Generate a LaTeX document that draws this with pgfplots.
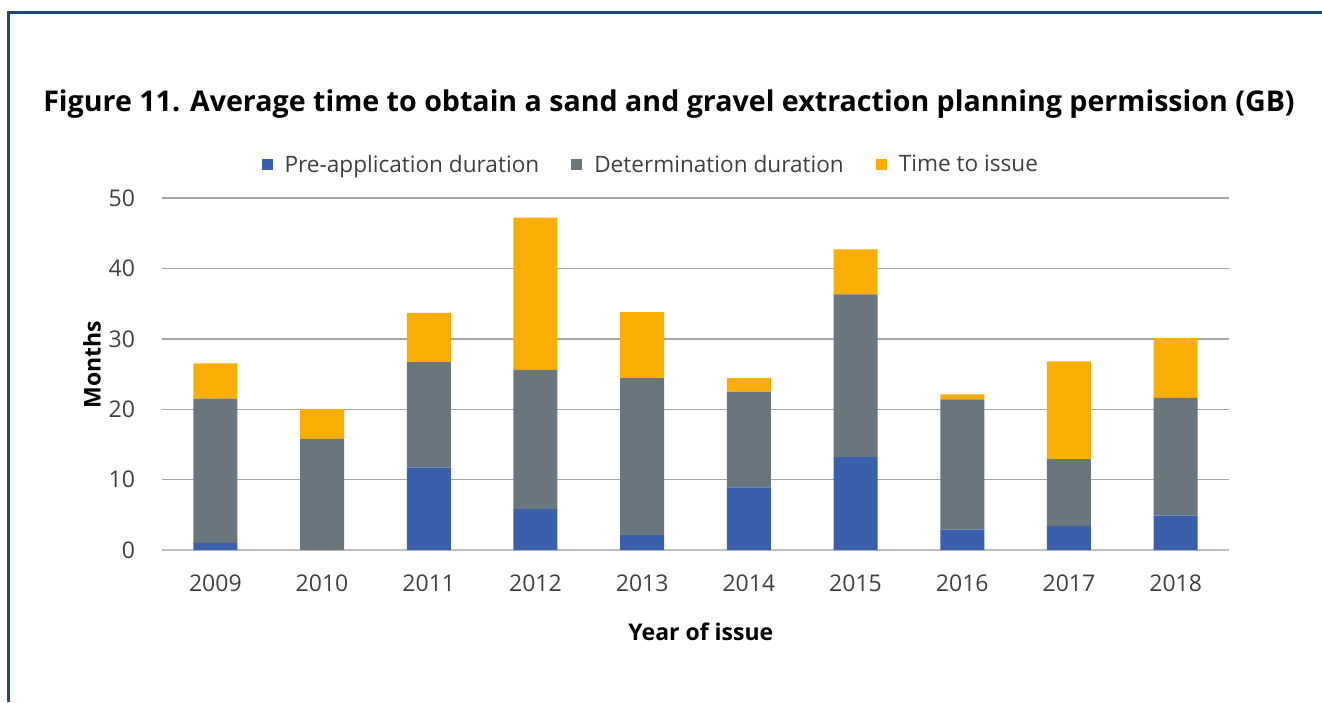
\documentclass[border=0pt]{standalone}
\usepackage{pgfplots}
\pgfplotsset{compat=1.18}
\usepackage{pgfplotstable}
\usepackage{fontspec}
\setmainfont{Open Sans}
\definecolor{cblue}{HTML}{3A60AB}
\definecolor{cgray}{HTML}{69767E}
\definecolor{corange}{HTML}{F9AE00}
\definecolor{frame}{HTML}{1F497D}
\definecolor{gridc}{HTML}{A6A6A6}
\definecolor{basec}{HTML}{BFBFBF}
\definecolor{txt}{HTML}{404040}
\pgfplotstableread{
x pre det iss
0 1.0 20.5 5.0
1 0.0 15.8 4.2
2 11.7 15.0 7.0
3 5.8 19.8 21.6
4 2.1 22.3 9.4
5 8.9 13.6 1.9
6 13.2 23.1 6.4
7 2.9 18.5 0.7
8 3.4 9.5 13.9
9 4.9 16.7 8.5
}\datatable
\begin{document}
\begin{tikzpicture}
\useasboundingbox (0,0) rectangle (661pt,351pt);
\draw[frame, line width=1.5pt] (4pt,0) -- (4pt,344.5pt) -- (661pt,344.5pt);
\node[anchor=base, font=\bfseries\fontsize{14.3}{17}\selectfont] at (334.5pt,295pt)
  {Figure 11. Average time to obtain a sand and gravel extraction planning permission (GB)};
\begin{axis}[
  at={(81pt,76pt)}, anchor=south west,
  scale only axis, width=533.5pt, height=176pt,
  ybar stacked, bar width=22pt, bar shift=0pt,
  xmin=-0.5, xmax=9.5, ymin=0, ymax=50,
  ytick={0,10,...,50},
  xtick={0,...,9},
  xticklabels={2009,2010,2011,2012,2013,2014,2015,2016,2017,2018},
  axis x line=bottom, axis y line=left,
  x axis line style={-, draw=basec, line width=1pt},
  y axis line style={draw=none},
  ymajorgrids, grid style={draw=gridc, line width=0.7pt},
  major tick length=0pt,
  /pgf/number format/assume math mode=true,
  tick label style={font=\fontsize{11.5}{13}\selectfont, text=txt},
  xticklabel style={yshift=-9pt},
  yticklabel style={xshift=-10pt},
  xlabel={Year of issue}, ylabel={Months},
  label style={font=\bfseries\fontsize{11.5}{13}\selectfont},
  xlabel style={at={(axis description cs:0.505,-0.233)}, anchor=center},
  ylabel style={at={(axis description cs:-0.0656,0.526)}, anchor=center},
  legend columns=3,
  legend style={at={(0.459,1.094)}, anchor=center, draw=none, fill=none,
    font=\fontsize{11.3}{13}\selectfont, text=txt,
    /tikz/every odd column/.append style={column sep=4pt},
    /tikz/every even column/.append style={column sep=14pt}},
  legend image code/.code={\fill[#1] (0pt,-2.75pt) rectangle (5.5pt,2.75pt);},
]
\addplot[fill=cblue, draw=none] table[x=x, y=pre] {\datatable};
\addplot[fill=cgray, draw=none] table[x=x, y=det] {\datatable};
\addplot[fill=corange, draw=none] table[x=x, y=iss] {\datatable};
\legend{Pre-application duration, Determination duration, Time to issue}
\end{axis}
\end{tikzpicture}
\end{document}
